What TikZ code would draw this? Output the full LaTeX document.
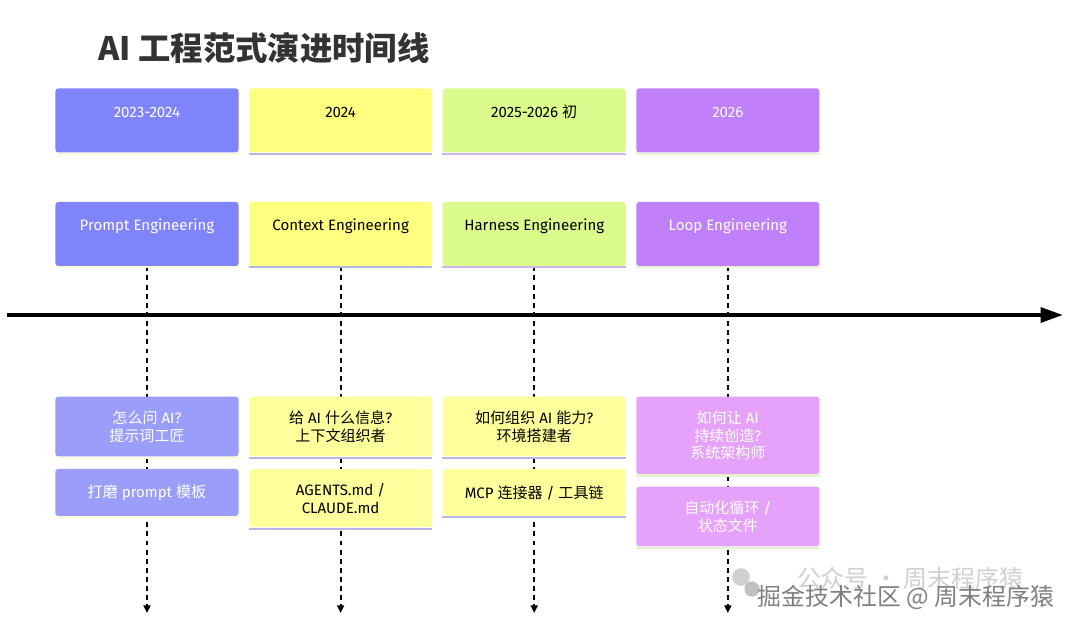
\documentclass[tikz,border=0pt]{standalone}
\usepackage{fontspec}
\setmainfont{Fira Sans}
\newfontfamily\cjk{Noto Sans CJK SC}
\usetikzlibrary{arrows.meta,positioning}
\definecolor{prompt}{RGB}{128,132,250}
\definecolor{context}{RGB}{255,255,128}
\definecolor{harness}{RGB}{219,250,140}
\definecolor{loop}{RGB}{191,128,250}
\definecolor{promptlt}{RGB}{154,158,250}
\definecolor{contextlt}{RGB}{255,255,155}
\definecolor{looplt}{RGB}{230,162,250}
\definecolor{rimA}{RGB}{252,252,215}
\definecolor{rimB}{RGB}{182,182,232}
\definecolor{rimC}{RGB}{205,180,238}
\definecolor{rimD}{RGB}{228,246,205}
\definecolor{titlegray}{RGB}{51,51,51}
\definecolor{wmgray}{RGB}{128,128,128}
\definecolor{wmlight}{RGB}{208,208,208}
\newcommand{\bodyfont}{\fontsize{10.7}{12.7}\selectfont}
\tikzset{
	period/.style={rounded corners=2pt, minimum width=45.75mm, minimum height=16mm, text height=8pt, text depth=12.5pt, font=\bodyfont},
	task/.style={rounded corners=2pt, align=center, minimum width=45.75mm, minimum height=11.75mm, inner ysep=3.5mm, font=\bodyfont},
	rim/.style={line width=1.5pt},
	guide/.style={-{Triangle[length=5.5pt,width=5pt]}, line width=1.4pt, dash pattern=on 3.5pt off 3pt},
	spine/.style={-{Triangle[length=16pt,width=10.5pt]}, line width=2.8pt},
	wmark/.style={inner sep=0pt, font=\cjk\fontsize{17}{20}\selectfont}
}

\begin{document}
\begin{tikzpicture}[x=0.025cm, y=-0.025cm]
	\fill[white] (0,0) rectangle (1080,627);
	\useasboundingbox (0,0) rectangle (1080,627);
	\node[anchor=west, inner sep=0pt, text=titlegray, font=\cjk\bfseries\fontsize{23}{27}\selectfont] (title) at (98,48) {AI 工程范式演进时间线};

	\node[period, fill=prompt, text=white] (p1) at (147,234) {Prompt Engineering};
	\node[period, fill=context, right=2.5mm of p1] (p2) {Context Engineering};
	\node[period, fill=harness, right=2.5mm of p2] (p3) {Harness Engineering};
	\node[period, fill=loop, text=white, right=2.5mm of p3] (p4) {Loop Engineering};
	\node[period, fill=prompt, text=white, above=12.25mm of p1] (y1) {2023-2024};
	\node[period, fill=context, above=12.25mm of p2] (y2) {2024};
	\node[period, fill=harness, above=12.25mm of p3] (y3) {2025-2026 {\cjk 初}};
	\node[period, fill=loop, text=white, above=12.25mm of p4] (y4) {2026};

	\coordinate (floor) at (0,613);
	\foreach \n in {p1,p2,p3,p4}
		\draw[guide] (\n.south) -- (\n.south |- floor);
	\coordinate (spine-start) at (7,315);
	\coordinate (spine-end) at (1063,315);
	\draw[spine] (spine-start) -- (spine-end);

	\node[task, fill=promptlt, text=white, below=32.5mm of p1] (q1) {{\cjk 怎么问} AI?\\{\cjk 提示词工匠}};
	\node[task, fill=promptlt, text=white, below=3mm of q1] (t1) {{\cjk 打磨} prompt {\cjk 模板}};
	\node[task, fill=contextlt, below=32.5mm of p2] (q2) {{\cjk 给} AI {\cjk 什么信息}?\\{\cjk 上下文组织者}};
	\node[task, fill=contextlt, below=3mm of q2] (t2) {AGENTS.md /\\CLAUDE.md};
	\node[task, fill=contextlt, below=32.5mm of p3] (q3) {{\cjk 如何组织} AI {\cjk 能力}?\\{\cjk 环境搭建者}};
	\node[task, fill=contextlt, below=3mm of q3] (t3) {MCP {\cjk 连接器} / {\cjk 工具链}};
	\node[task, fill=looplt, text=white, below=32.5mm of p4] (q4) {{\cjk 如何让} AI\\{\cjk 持续创造}?\\{\cjk 系统架构师}};
	\node[task, fill=looplt, text=white, below=3mm of q4] (t4) {{\cjk 自动化循环} /\\{\cjk 状态文件}};

	\foreach \n/\c in {y1/rimA,p1/rimA,q1/rimA,t1/rimA,y2/rimB,p2/rimB,q2/rimB,t2/rimB,y3/rimC,p3/rimC,q3/rimB,t3/rimB,y4/rimD,p4/rimD,q4/rimD,t4/rimD}
		\draw[rim, \c] ([yshift=-0.75pt]\n.south west) -- ([yshift=-0.75pt]\n.south east);

	\fill[wmlight] (741,577) circle (0.22cm);
	\fill[wmlight!80!gray] (752,589) circle (0.19cm);
	\node[wmark, text=wmlight] (wm1) at (910,578) {公众号 · 周末程序猿};
	\node[wmark, text=wmgray] (wm2) at (906,597) {掘金技术社区 @ 周末程序猿};
\end{tikzpicture}
\end{document}
